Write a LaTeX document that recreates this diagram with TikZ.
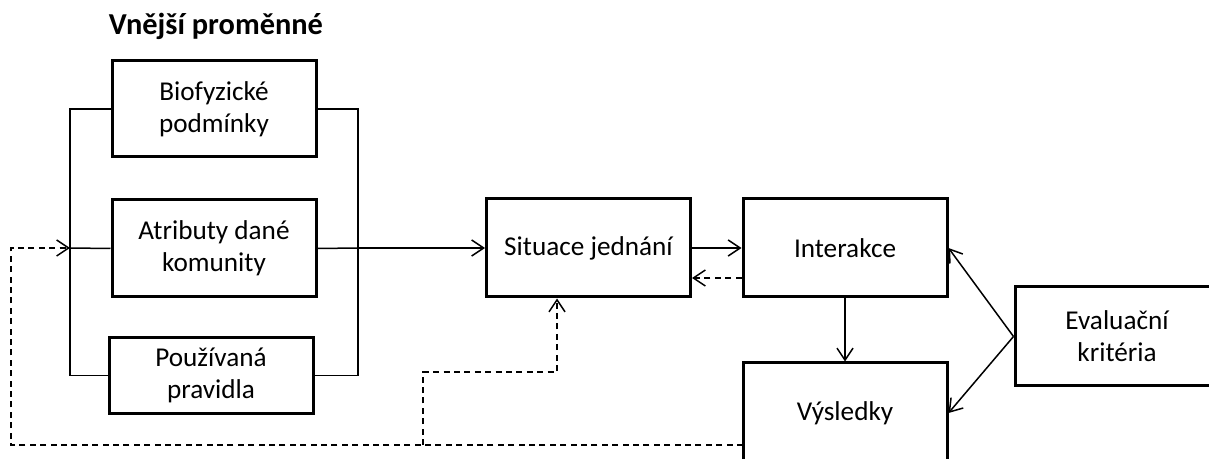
\documentclass[tikz,border=0pt]{standalone}
\usepackage{fontspec}
\setmainfont{Carlito}
\usepackage{tikz}
\usetikzlibrary{positioning,calc,arrows.meta}

\begin{document}
\begin{tikzpicture}[x=0.5pt,y=-0.5pt,>={Straight Barb[length=6pt,width=8pt]},
                line width=0.75pt,
                box node/.style={rectangle,draw,line width=1.5pt,align=center,
                    minimum width=102pt,font=\fontsize{13.6}{16}\selectfont},
                title node/.style={font=\fontsize{15.2}{17}\selectfont\bfseries},
                back/.style={dashed,dash pattern=on 3pt off 2.2pt}]
\clip (0,0) rectangle (1209,459);
%Nodes
    \node[title node] (vars) at (216,26) {Vnější proměnné};
    \node[box node, minimum height=48pt] (bio) at (214,109) {Biofyzické\\podmínky};
    \node[box node, minimum height=48.5pt] (attr) at (214,248.5) {Atributy dané\\komunity};
    \node[box node, minimum height=37.5pt] (rules) at (211,375.5) {Používaná\\pravidla};
    \node[box node, minimum height=49pt] (sit) at (588.5,248) {Situace jednání};
    \node[box node, minimum height=49pt] (inter) at (845,248) {Interakce};
    \node[box node, minimum height=50pt] (out) at (845,413) {Výsledky};
    \node[box node, minimum height=49.5pt] (eval) at (1117,336.5) {Evaluační\\kritéria};

%Brackets
    \coordinate (lb) at (70,248);
    \coordinate (rb) at (358,248);
    \draw (bio.west) -| (lb) |- (rules.west);
    \draw (attr.west) -- (lb);
    \draw (bio.east) -| (rb) |- (rules.east);
    \draw (attr.east) -- (rb);

%Flow
    \draw[->] (rb) -- (sit.west);
    \draw[->] (sit.east) -- (inter.west);
    \draw[->] (inter.south) -- (out.north);
    \draw[->] (eval.west) -- (inter.east);
    \draw[->] (eval.west) -- (out.east);

%Feedback
    \coordinate (fb) at (743,445);
    \coordinate (fbl) at (11,445);
    \coordinate (fbj) at (423,445);
    \coordinate (fbk) at (557,372);
    \draw[back,->] ([yshift=-15pt]inter.west) -- ([yshift=-15pt]sit.east);
    \draw[back,->] (fb) -- (fbl) |- (lb);
    \draw[back,->] (fbj) |- (fbk) -- (fbk |- sit.south);
\end{tikzpicture}
\end{document}
